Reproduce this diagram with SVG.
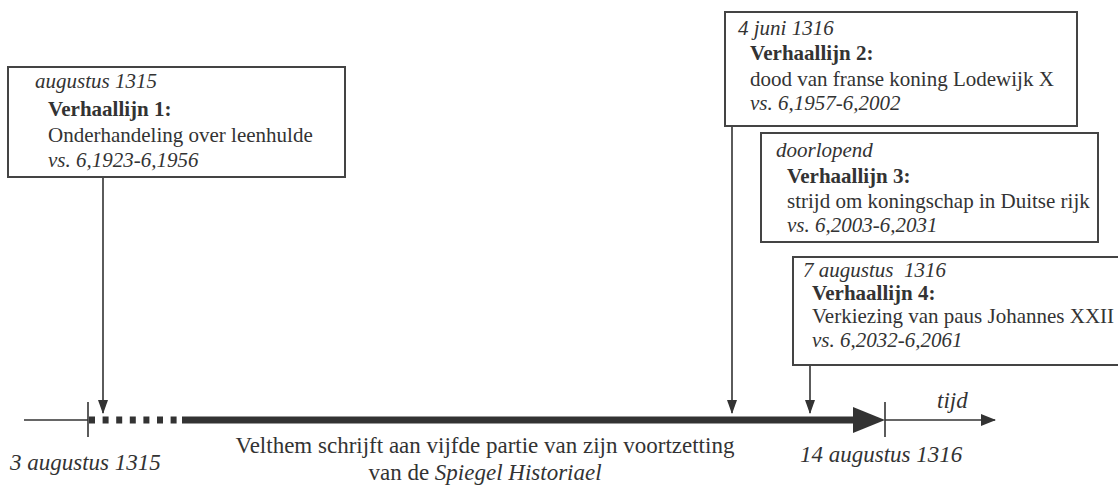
<svg xmlns="http://www.w3.org/2000/svg" width="1118" height="487" viewBox="0 0 1118 487" font-family="'Liberation Serif', 'DejaVu Serif', serif">
<style>
text{font-family:'Liberation Serif','DejaVu Serif',serif;fill:#333}
.t{font-size:21px}
.big{font-size:23px}
.i{font-style:italic}
.b{font-weight:bold}
.box{fill:#fff;stroke:#444;stroke-width:2}
.ln{stroke:#333;stroke-width:1.6;fill:none}
</style>
<defs>
<marker id="ah" markerWidth="14" markerHeight="10" refX="13" refY="5" orient="auto" markerUnits="userSpaceOnUse">
<path d="M0,0 L14,5 L0,10 Z" fill="#333"/>
</marker>
<marker id="ah2" markerWidth="15" markerHeight="12" refX="14" refY="6" orient="auto" markerUnits="userSpaceOnUse">
<path d="M0,0 L15,6 L0,12 Z" fill="#333"/>
</marker>
</defs>
<g id="connectors">
<line class="ln" x1="103" y1="177" x2="103" y2="413" marker-end="url(#ah)"/>
<line class="ln" x1="732" y1="126" x2="732" y2="413" marker-end="url(#ah)"/>
<line class="ln" x1="810" y1="365" x2="810" y2="413" marker-end="url(#ah)"/>
</g>
<g id="timeline">
<line class="ln" x1="24" y1="420" x2="88" y2="420"/>
<line class="ln" x1="88" y1="402" x2="88" y2="437"/>
<line x1="89" y1="420" x2="183" y2="420" stroke="#333" stroke-width="7" stroke-dasharray="6 7.6"/>
<line x1="182" y1="420" x2="855" y2="420" stroke="#333" stroke-width="7"/>
<path d="M853,407 L885,420 L853,433 Z" fill="#333"/>
<line class="ln" x1="885" y1="402" x2="885" y2="437"/>
<line class="ln" x1="885" y1="420" x2="995" y2="420" marker-end="url(#ah2)"/>
<text class="i big" x="937" y="408">tijd</text>
<text class="i big" x="10" y="470">3 augustus 1315</text>
<text class="i big" x="800" y="462">14 augustus 1316</text>
<text class="big" x="485" y="453" text-anchor="middle">Velthem schrijft aan vijfde partie van zijn voortzetting</text>
<text class="big" x="485" y="480" text-anchor="middle">van de <tspan class="i">Spiegel Historiael</tspan></text>
</g>
<g id="node1">
<rect class="box" x="8" y="67" width="337" height="110"/>
<text class="t i" x="35" y="88">augustus 1315</text>
<text class="t b" x="48" y="116">Verhaallijn 1:</text>
<text class="t" x="48" y="142">Onderhandeling over leenhulde</text>
<text class="t i" x="48" y="167">vs. 6,1923-6,1956</text>
</g>
<g id="node2">
<rect class="box" x="725" y="12" width="352" height="114"/>
<text class="t i" x="738" y="35">4 juni 1316</text>
<text class="t b" x="750" y="60">Verhaallijn 2:</text>
<text class="t" x="750" y="86">dood van franse koning Lodewijk X</text>
<text class="t i" x="750" y="110">vs. 6,1957-6,2002</text>
</g>
<g id="node3">
<rect class="box" x="761" y="133" width="337" height="109"/>
<text class="t i" x="776" y="157">doorlopend</text>
<text class="t b" x="787" y="183">Verhaallijn 3:</text>
<text class="t" x="787" y="208">strijd om koningschap in Duitse rijk</text>
<text class="t i" x="787" y="232">vs. 6,2003-6,2031</text>
</g>
<g id="node4">
<rect class="box" x="793" y="257" width="340" height="108"/>
<text class="t i" x="803" y="277">7 augustus&#160; 1316</text>
<text class="t b" x="812" y="300">Verhaallijn 4:</text>
<text class="t" x="812" y="323">Verkiezing van paus Johannes XXII</text>
<text class="t i" x="812" y="347">vs. 6,2032-6,2061</text>
</g>
</svg>
